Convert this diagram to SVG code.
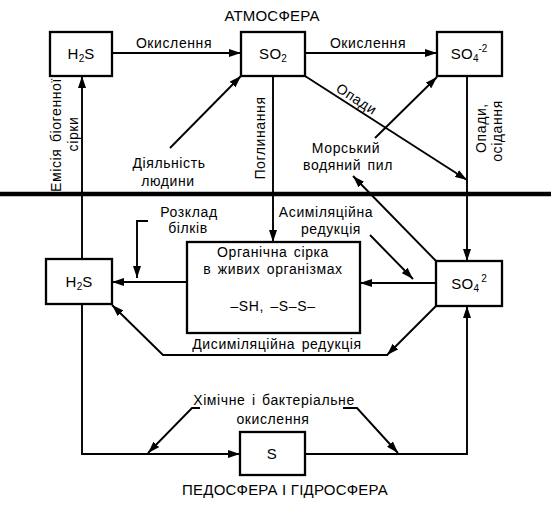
<svg xmlns="http://www.w3.org/2000/svg" width="551" height="507" viewBox="0 0 551 507">
<defs>
<marker id="ah" viewBox="0 0 12 8" refX="12" refY="4" markerWidth="12" markerHeight="8" markerUnits="userSpaceOnUse" orient="auto">
<path d="M0,0 L12,4 L0,8 z" fill="#000"/>
</marker>
<style>
text{font-family:"Liberation Sans",Arial,sans-serif;font-size:14px;fill:#000;letter-spacing:0.6px;word-spacing:2px}
.h{font-size:15px;letter-spacing:0.2px;word-spacing:0}
.b{font-size:15px;letter-spacing:0.3px}
.c{text-anchor:middle}
.box{fill:#fff;stroke:#000;stroke-width:2.3}
.ar{fill:none;stroke:#000;stroke-width:1.9;marker-end:url(#ah)}
.sub{font-size:10px;letter-spacing:0}
</style>
</defs>
<rect width="551" height="507" fill="#fff"/>

<g id="labels">
<text class="h c" x="272" y="21">АТМОСФЕРА</text>
<text class="h c" x="285" y="495">ПЕДОСФЕРА І ГІДРОСФЕРА</text>
</g>

<g id="connectors">
<line x1="0" y1="194" x2="551" y2="194" stroke="#000" stroke-width="4.5"/>
<path class="ar" d="M112,53 L241,53"/>
<path class="ar" d="M305,53 L437,53"/>
<path class="ar" d="M170,148 L241,76"/>
<path class="ar" d="M375,138 L437,77"/>
<path class="ar" d="M305,76 L467,180"/>
<path class="ar" d="M467,76 L467,261"/>
<path class="ar" d="M273,76 L273,242"/>
<path class="ar" d="M82,259 L82,76"/>
<path class="ar" d="M187,282 L112,282"/>
<path class="ar" d="M148,221 L137,221 L137,278"/>
<path class="ar" d="M436,283 L360,283"/>
<path class="ar" d="M370,235 L413,279"/>
<path class="ar" d="M436,261 L353,176"/>
<path class="ar" d="M436,306 L387,355"/>
<path class="ar" d="M388,355 L163,355 L112,305"/>
<path class="ar" d="M82,304 L82,454 L240,454"/>
<path class="ar" d="M305,454 L467,454 L467,306"/>
<path class="ar" d="M200,408 L192,408 L148,453"/>
<path class="ar" d="M343,408 L357,408 L398,453"/>

<text class="c" x="174" y="48">Окислення</text>
<text class="c" x="368" y="48">Окислення</text>
<text class="c" transform="translate(354,103) rotate(33)">Опади</text>
<text class="c" x="346" y="153">Морський</text>
<text class="c" x="348" y="170">водяний пил</text>
<text class="c" x="169" y="168">Діяльність</text>
<text class="c" x="168" y="186">людини</text>
<text class="c" transform="translate(265,138) rotate(-90)">Поглинання</text>
<text class="c" transform="translate(61,135) rotate(-90)">Емісія біогенної</text>
<text class="c" transform="translate(78,134) rotate(-90)">сірки</text>
<text class="c" transform="translate(486,128) rotate(-90)">Опади,</text>
<text class="c" transform="translate(502,131) rotate(-90)">осідання</text>
<text class="c" x="189" y="217">Розклад</text>
<text class="c" x="188" y="233">білків</text>
<text class="c" x="326" y="217">Асиміляційна</text>
<text class="c" x="331" y="234">редукція</text>
<text class="c" x="277" y="349">Дисиміляційна редукція</text>
<text class="c" x="274" y="405">Хімічне і бактеріальне</text>
<text class="c" x="273" y="424">окислення</text>
</g>

<g id="h2s-top">
<rect class="box" x="50" y="32" width="62" height="44"/>
<text class="b c" x="81" y="59">H<tspan class="sub" dy="3">2</tspan><tspan dy="-3">S</tspan></text>
</g>
<g id="so2">
<rect class="box" x="241" y="32" width="64" height="44"/>
<text class="b c" x="273" y="59">SO<tspan class="sub" dy="3">2</tspan></text>
</g>
<g id="so4-top">
<rect class="box" x="437" y="32" width="65" height="44"/>
<text class="b c" x="469" y="59">SO<tspan class="sub" dy="3">4</tspan><tspan class="sub" dy="-10">-2</tspan></text>
</g>
<g id="organic">
<rect class="box" x="187" y="242" width="173" height="91"/>
<text class="c" x="273" y="257">Органічна сірка</text>
<text class="c" x="273" y="274">в живих організмах</text>
<text class="c" x="273" y="311">–SH, –S–S–</text>
</g>
<g id="h2s-low">
<rect class="box" x="46" y="259" width="66" height="45"/>
<text class="b c" x="79" y="287">H<tspan class="sub" dy="3">2</tspan><tspan dy="-3">S</tspan></text>
</g>
<g id="so4-low">
<rect class="box" x="436" y="261" width="66" height="45"/>
<text class="b c" x="469" y="289">SO<tspan class="sub" dy="3">4</tspan><tspan class="sub" dx="2" dy="-10">2</tspan></text>
</g>
<g id="s">
<rect class="box" x="240" y="432" width="65" height="43"/>
<text class="b c" x="272" y="459">S</text>
</g>
</svg>
